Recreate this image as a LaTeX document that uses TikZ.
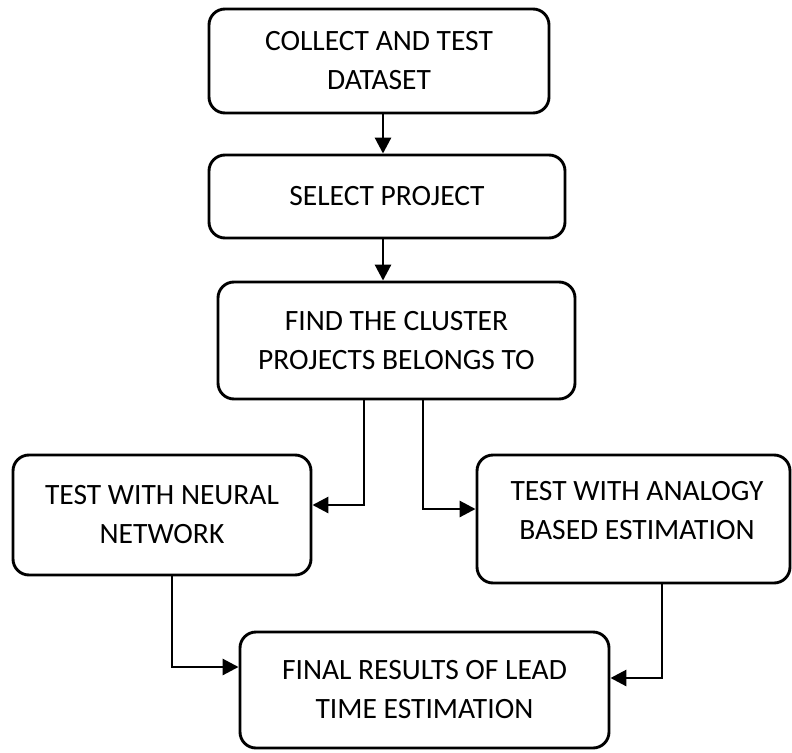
\documentclass[tikz,border=0pt]{standalone}
\usepackage{fontspec}
\setmainfont{Carlito}
\usetikzlibrary{arrows.meta,calc}
\begin{document}
\begin{tikzpicture}[x=1pt,y=-1pt,
  box/.style={draw=black, line width=2.9pt, rounded corners=16pt, inner sep=0pt,
    align=center, font=\fontsize{29.5}{39}\selectfont},
  txt/.style={inner sep=0pt, align=center, font=\fontsize{29.5}{39}\selectfont},
  arr/.style={draw=black, line width=2.9pt, -{Triangle[length=16pt,width=16pt]}}]
\useasboundingbox (0,0) rectangle (792,752);
\node[box, minimum width=340pt, minimum height=104pt] (b1) at (379,61) {COLLECT AND TEST\\DATASET};
\node[box, minimum width=356pt, minimum height=83pt] (b2) at (387,196.5) {SELECT PROJECT};
\node[box, minimum width=357pt, minimum height=117pt] (b3) at (396.5,340.5) {FIND THE CLUSTER\\PROJECTS BELONGS TO};
\node[box, minimum width=298pt, minimum height=120pt] (b4) at (162,515) {TEST WITH NEURAL\\NETWORK};
\node[box, minimum width=313pt, minimum height=128pt] (b5) at (633.5,519) {};
\node[txt] (b5t) at (637,511) {TEST WITH ANALOGY\\BASED ESTIMATION};
\node[box, minimum width=369pt, minimum height=116pt] (b6) at (424.5,690) {FINAL RESULTS OF LEAD\\TIME ESTIMATION};
\coordinate (c1) at (383,0);
\coordinate (j1) at (364,505);
\coordinate (j2) at (423,509);
\coordinate (j3) at (172,667);
\coordinate (j4) at (662,678);
\draw[arr] (b1.south -| c1) -- (b2.north -| c1);
\draw[arr] (b2.south -| c1) -- (b3.north -| c1);
\draw[arr] (b3.south -| j1) -- (j1) -- (j1 -| b4.east);
\draw[arr] (b3.south -| j2) -- (j2) -- (j2 -| b5.west);
\draw[arr] (b4.south -| j3) -- (j3) -- (j3 -| b6.west);
\draw[arr] (b5.south -| j4) -- (j4) -- (j4 -| b6.east);
\end{tikzpicture}
\end{document}
